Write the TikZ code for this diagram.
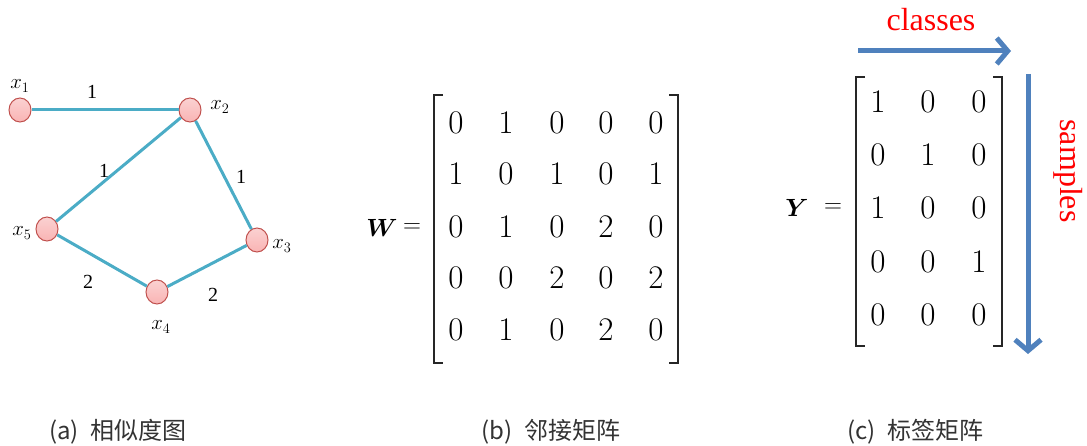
\documentclass[tikz,border=0pt]{standalone}
\usepackage{fontspec}
\usepackage{amsmath,bm}
\newfontfamily\cjk{Noto Sans CJK SC}
\newfontfamily\tms{Liberation Serif}
\usetikzlibrary{arrows.meta,shapes.geometric}
\definecolor{edgeteal}{HTML}{4BACC6}
\definecolor{arrowblue}{HTML}{4F81BD}
\definecolor{vfill}{HTML}{F7B3B3}
\definecolor{vdraw}{HTML}{C0504D}
\definecolor{captiongray}{HTML}{333333}
\tikzset{
  vertex/.style={ellipse,draw=vdraw,line width=1pt,top color=vfill!60!white,bottom color=vfill!90!red!80,minimum width=22pt,minimum height=24pt,inner sep=0pt},
  edge/.style={draw=edgeteal,line width=3pt},
  vlabel/.style={font=\fontsize{21}{24}\selectfont,inner sep=0pt},
  wlabel/.style={font=\tms\fontsize{20}{22}\selectfont,inner sep=0pt},
  entry/.style={font=\fontsize{33}{40}\selectfont,inner sep=0pt},
  bracket/.style={line width=1.5pt,draw=black!85},
  bigarrow/.style={draw=arrowblue,line width=5pt,-{Straight Barb[length=11pt,width=26pt,line width=5pt]}},
  redtext/.style={font=\tms\fontsize{32}{36}\selectfont,text=red,inner sep=0pt},
  caption/.style={font=\cjk\fontsize{24}{28}\selectfont,text=captiongray,inner sep=0pt}
}
\begin{document}
\begin{tikzpicture}[x=1pt,y=-1pt]
\useasboundingbox (0,0) rectangle (1087,446);
% graph
\node[vertex] (x1) at (20,110) {};
\node[vertex] (x2) at (190,110) {};
\node[vertex] (x5) at (47,229) {};
\node[vertex] (x3) at (257,240) {};
\node[vertex] (x4) at (157,292) {};
\draw[edge] (x1) -- (x2);
\draw[edge] (x2) -- (x5);
\draw[edge] (x2) -- (x3);
\draw[edge] (x5) -- (x4);
\draw[edge] (x4) -- (x3);
\node[vlabel] (l1) at (20,86) {$x_{1}$};
\node[vlabel] (l2) at (220,107) {$x_{2}$};
\node[vlabel] (l5) at (22,233) {$x_{5}$};
\node[vlabel] (l3) at (282,246) {$x_{3}$};
\node[vlabel] (l4) at (161,327) {$x_{4}$};
\node[wlabel] (e12) at (92,92) {1};
\node[wlabel] (e25) at (104,171) {1};
\node[wlabel] (e23) at (241,177) {1};
\node[wlabel] (e54) at (88,282) {2};
\node[wlabel] (e43) at (213,295) {2};
% W matrix
\node[entry] (W) at (382,228) {$\bm{W}$};
\node[entry] (Weq) at (412,228) {$=$};
\def\wcols{{456,506,557,606,656}}
\def\wrows{{123,174,227,278,330}}
\foreach \r/\row in {0/{0,1,0,0,0},1/{1,0,1,0,1},2/{0,1,0,2,0},3/{0,0,2,0,2},4/{0,1,0,2,0}}{
  \foreach \v [count=\c from 0] in \row {
    \pgfmathsetmacro{\xx}{\wcols[\c]}
    \pgfmathsetmacro{\yy}{\wrows[\r]}
    \node[entry] (w\r\c) at (\xx,\yy) {\v};
  }
}
\draw[bracket] (443,95) -- (434,95) -- (434,363) -- (443,363);
\draw[bracket] (669,95) -- (678,95) -- (678,363) -- (669,363);
% Y matrix
\node[entry] (Y) at (797,208) {$\bm{Y}$};
\node[entry] (Yeq) at (833,208) {$=$};
\def\ycols{{878,928,979}}
\def\yrows{{102,155,208,262,315}}
\foreach \r/\row in {0/{1,0,0},1/{0,1,0},2/{1,0,0},3/{0,0,1},4/{0,0,0}}{
  \foreach \v [count=\c from 0] in \row {
    \pgfmathsetmacro{\xx}{\ycols[\c]}
    \pgfmathsetmacro{\yy}{\yrows[\r]}
    \node[entry] (y\r\c) at (\xx,\yy) {\v};
  }
}
\draw[bracket] (865,77) -- (856,77) -- (856,346) -- (865,346);
\draw[bracket] (993,77) -- (1002,77) -- (1002,346) -- (993,346);
\coordinate (hs) at (858,51);
\coordinate (he) at (1011,51);
\coordinate (vs) at (1028,74);
\coordinate (ve) at (1028,354);
\draw[bigarrow] (hs) -- (he);
\draw[bigarrow] (vs) -- (ve);
\node[redtext] (cls) at (931,20) {classes};
\node[redtext,rotate=-90] (smp) at (1068,171) {samples};
% captions
\node[caption,anchor=west] (ca) at (49,432) {(a)\hspace{0.5em}相似度图};
\node[caption,anchor=west] (cb) at (481,432) {(b)\hspace{0.5em}邻接矩阵};
\node[caption,anchor=west] (cc) at (847,432) {(c)\hspace{0.5em}标签矩阵};
\end{tikzpicture}
\end{document}
